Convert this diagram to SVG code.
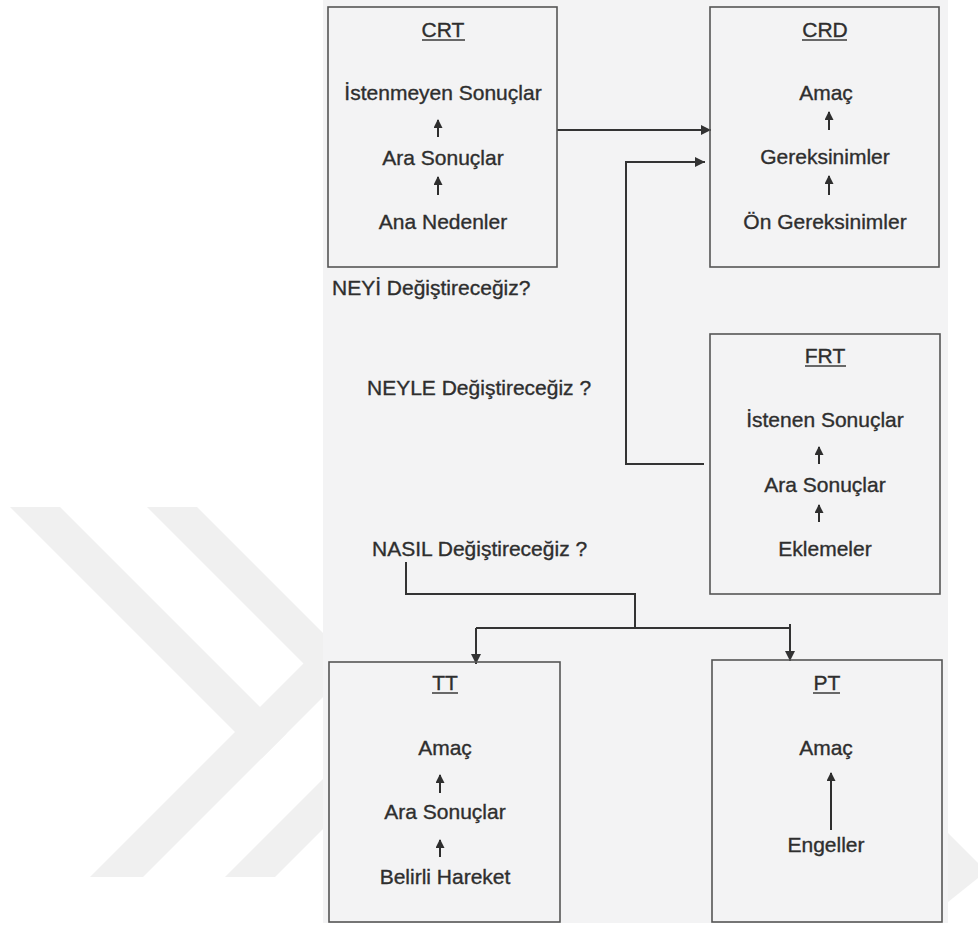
<svg xmlns="http://www.w3.org/2000/svg" width="978" height="927" viewBox="0 0 978 927">
  <defs>
    <style>
      .box { fill: none; stroke: #555; stroke-width: 1.6; }
      .t { font-family: "Liberation Sans", Arial, sans-serif; font-size: 21px; fill: #2e2e2e; stroke: #2e2e2e; stroke-width: 0.35; text-anchor: middle; }
      .q { font-family: "Liberation Sans", Arial, sans-serif; font-size: 21px; fill: #2e2e2e; stroke: #2e2e2e; stroke-width: 0.35; }
      .ul { stroke: #3a3a3a; stroke-width: 1.5; }
      .step { stroke: #2e2e2e; stroke-width: 2; fill: none; marker-end: url(#small); }
      .wire { stroke: #333; stroke-width: 2; fill: none; }
      .wm { fill: #f0f0f0; }
    </style>
    <marker id="small" viewBox="0 0 10 10" refX="9" refY="5" markerWidth="10" markerHeight="9" markerUnits="userSpaceOnUse" orient="auto">
      <path d="M0,0 L10,5 L0,10 z" fill="#2e2e2e"/>
    </marker>
    <marker id="head" viewBox="0 0 10 10" refX="10" refY="5" markerWidth="13" markerHeight="10" markerUnits="userSpaceOnUse" orient="auto">
      <path d="M0,0 L10,5 L0,10 z" fill="#333"/>
    </marker>
  </defs>

  <!-- page -->
  <rect x="0" y="0" width="978" height="927" fill="#ffffff"/>

  <!-- faint chevron watermark -->
  <g id="watermark">
    <polygon class="wm" points="10,507 60,507 286.5,733.5 261.5,758.5"/>
    <polygon class="wm" points="90,877 143,877 400,620 400,567"/>
    <polygon class="wm" points="147,507 197,507 400,710 400,760"/>
    <polygon class="wm" points="225,877 275,877 400,752 400,702"/>
    <polygon class="wm" points="948,833 978,863 978,878 948,902"/>
  </g>

  <!-- scanned sheet -->
  <rect x="323" y="0" width="625" height="923" fill="#f3f3f4"/>

  <!-- connectors -->
  <g id="connectors">
    <path class="wire" d="M557,130 H711" marker-end="url(#head)"/>
    <path class="wire" d="M704,464 H626 V162 H705" marker-end="url(#head)"/>
    <path class="wire" d="M406,562 V594 H635 V628"/>
    <path class="wire" d="M476,628 H790"/>
    <path class="wire" d="M476,628 V664" marker-end="url(#head)"/>
    <path class="wire" d="M790,624 V661" marker-end="url(#head)"/>
  </g>

  <!-- questions -->
  <g id="q-neyi"><text class="q" x="332" y="295">NEYİ Değiştireceğiz?</text></g>
  <g id="q-neyle"><text class="q" x="367" y="395">NEYLE Değiştireceğiz ?</text></g>
  <g id="q-nasil"><text class="q" x="372" y="556">NASIL Değiştireceğiz ?</text></g>

  <!-- Current Reality Tree -->
  <g id="crt">
    <rect class="box" x="328" y="7" width="229" height="260"/>
    <text class="t" x="443" y="37">CRT</text>
    <line class="ul" x1="422" y1="40" x2="465" y2="40"/>
    <text class="t" x="443" y="100">İstenmeyen Sonuçlar</text>
    <line class="step" x1="438" y1="137" x2="438" y2="120"/>
    <text class="t" x="443" y="165">Ara Sonuçlar</text>
    <line class="step" x1="438" y1="195" x2="438" y2="177"/>
    <text class="t" x="443" y="229">Ana Nedenler</text>
  </g>

  <!-- Conflict Resolution Diagram -->
  <g id="crd">
    <rect class="box" x="710" y="7" width="229" height="260"/>
    <text class="t" x="825" y="37">CRD</text>
    <line class="ul" x1="802" y1="40" x2="847" y2="40"/>
    <text class="t" x="826" y="100">Amaç</text>
    <line class="step" x1="829" y1="130" x2="829" y2="112"/>
    <text class="t" x="825" y="164">Gereksinimler</text>
    <line class="step" x1="829" y1="195" x2="829" y2="176"/>
    <text class="t" x="825" y="229">Ön Gereksinimler</text>
  </g>

  <!-- Future Reality Tree -->
  <g id="frt">
    <rect class="box" x="710" y="334" width="230" height="260"/>
    <text class="t" x="825" y="363">FRT</text>
    <line class="ul" x1="805" y1="366" x2="846" y2="366"/>
    <text class="t" x="825" y="427">İstenen Sonuçlar</text>
    <line class="step" x1="819" y1="464" x2="819" y2="447"/>
    <text class="t" x="825" y="492">Ara Sonuçlar</text>
    <line class="step" x1="819" y1="522" x2="819" y2="505"/>
    <text class="t" x="825" y="556">Eklemeler</text>
  </g>

  <!-- Transition Tree -->
  <g id="tt">
    <rect class="box" x="329" y="662" width="231" height="260"/>
    <text class="t" x="445" y="690">TT</text>
    <line class="ul" x1="432" y1="693" x2="458" y2="693"/>
    <text class="t" x="445" y="755">Amaç</text>
    <line class="step" x1="440" y1="793" x2="440" y2="775"/>
    <text class="t" x="445" y="819">Ara Sonuçlar</text>
    <line class="step" x1="440" y1="857" x2="440" y2="840"/>
    <text class="t" x="445" y="884">Belirli Hareket</text>
  </g>

  <!-- Prerequisite Tree -->
  <g id="pt">
    <rect class="box" x="712" y="660" width="230" height="262"/>
    <text class="t" x="827" y="690">PT</text>
    <line class="ul" x1="813" y1="693" x2="840" y2="693"/>
    <text class="t" x="826" y="755">Amaç</text>
    <line class="step" x1="831" y1="830" x2="831" y2="773"/>
    <text class="t" x="826" y="852">Engeller</text>
  </g>
</svg>
